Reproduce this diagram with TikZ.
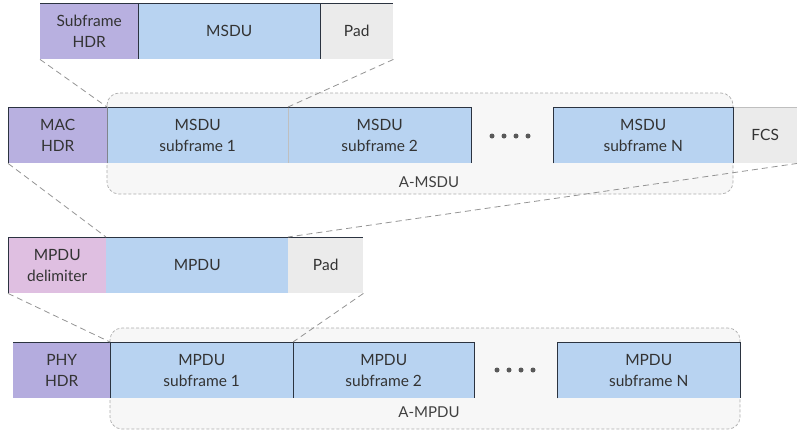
\documentclass[tikz,border=0pt]{standalone}
\usepackage{fontspec}
\setmainfont{Lato}
\definecolor{hdrc}{HTML}{B8B0E0}
\definecolor{phyc}{HTML}{B4ACDE}
\definecolor{pinkc}{HTML}{DFBFE1}
\definecolor{bluec}{HTML}{B8D3F1}
\definecolor{grayc}{HTML}{EBEBEB}
\definecolor{contc}{HTML}{F7F7F7}
\definecolor{edgec}{HTML}{2B3340}
\definecolor{txtc}{HTML}{333333}
\tikzset{
  box/.style={draw=none, minimum height=56, inner sep=0, anchor=north west, align=center,
    text=txtc, font=\fontsize{15.5}{21}\selectfont},
  cont/.style={draw=black!32, dashed, dash pattern=on 3pt off 2pt, fill=contc, rounded corners=12, line width=0.7},
  conn/.style={draw=black!42, dash pattern=on 6pt off 4pt, line width=0.8},
  edge/.style={draw=edgec, line width=1},
  soft/.style={draw=black!25, line width=0.6},
  dotc/.style={circle, fill=black!65, inner sep=0, minimum size=5},
  lab/.style={text=black!75, font=\fontsize{15}{17}\selectfont, inner sep=0}
}
\begin{document}
\begin{tikzpicture}[x=1pt,y=-1pt]
\useasboundingbox (0,0) rectangle (797,432);
% containers
\draw[cont] (107,93) rectangle (733,194);
\draw[cont] (110,328) rectangle (740,429);
\node[lab] (amsdu) at (429,182) {A-MSDU};
\node[lab] (ampdu) at (429,412) {A-MPDU};
% row 1
\node[box, fill=hdrc, minimum width=98] (sfhdr) at (40,3) {Subframe\\HDR};
\node[box, fill=bluec, minimum width=182] (msdu) at (138,3) {MSDU};
\node[box, fill=grayc, minimum width=73] (pad1) at (320,3) {Pad};
\draw[edge] (sfhdr.north west) -- (pad1.north east);
\draw[edge] (msdu.north west) -- (msdu.south west);
\draw[edge] (pad1.north west) -- (pad1.south west);
% row 2
\node[box, fill=hdrc, minimum width=99] (machdr) at (8,107) {MAC\\HDR};
\node[box, fill=bluec, minimum width=181] (ms1) at (107,107) {MSDU\\subframe 1};
\node[box, fill=bluec, minimum width=183] (ms2) at (288,107) {MSDU\\subframe 2};
\node[box, fill=bluec, minimum width=180] (msn) at (553,107) {MSDU\\subframe N};
\node[box, fill=grayc, minimum width=64] (fcs) at (733,107) {FCS};
\draw[soft] (ms2.north west) -- (ms2.south west);
\draw[soft] (fcs.north west) -- (fcs.north east);
\draw[edge] (machdr.south west) -- (machdr.north west) -- (ms2.north east) -- (ms2.south east);
\draw[edge] (msn.south west) -- (msn.north west) -- (msn.north east) -- (msn.south east);
\draw[edge, draw=edgec!60] (ms1.north west) -- (ms1.south west);
\node[dotc] (d1) at (492,136) {};
\node[dotc] (d2) at (504,136) {};
\node[dotc] (d3) at (516,136) {};
\node[dotc] (d4) at (528,136) {};
% row 3
\node[box, fill=pinkc, minimum width=98] (delim) at (8,237) {MPDU\\delimiter};
\node[box, fill=bluec, minimum width=182] (mpdu) at (106,237) {MPDU};
\node[box, fill=grayc, minimum width=75] (pad2) at (288,237) {Pad};
\draw[edge] (delim.south west) -- (delim.north west) -- (pad2.north east);
% row 4
\node[box, fill=phyc, minimum width=97] (phy) at (13,342) {PHY\\HDR};
\node[box, fill=bluec, minimum width=183] (mp1) at (110,342) {MPDU\\subframe 1};
\node[box, fill=bluec, minimum width=181] (mp2) at (293,342) {MPDU\\subframe 2};
\node[box, fill=bluec, minimum width=183] (mpn) at (557,342) {MPDU\\subframe N};
\draw[edge] (phy.north west) -- (mp2.north east) -- (mp2.south east);
\draw[edge] (mp1.north west) -- (mp1.south west);
\draw[edge] (mp2.north west) -- (mp2.south west);
\draw[edge] (mpn.south west) -- (mpn.north west) -- (mpn.north east) -- (mpn.south east);
\node[dotc] (e1) at (497,370) {};
\node[dotc] (e2) at (509,370) {};
\node[dotc] (e3) at (521,370) {};
\node[dotc] (e4) at (533,370) {};
% connectors
\draw[conn] (sfhdr.south west) -- (ms1.north west);
\draw[conn] (pad1.south east) -- (ms2.north west);
\draw[conn] (machdr.south west) -- (mpdu.north west);
\draw[conn] (fcs.south east) -- (pad2.north west);
\draw[conn] (delim.south west) -- (mp1.north west);
\draw[conn] (pad2.south east) -- (mp2.north west);
\end{tikzpicture}
\end{document}
